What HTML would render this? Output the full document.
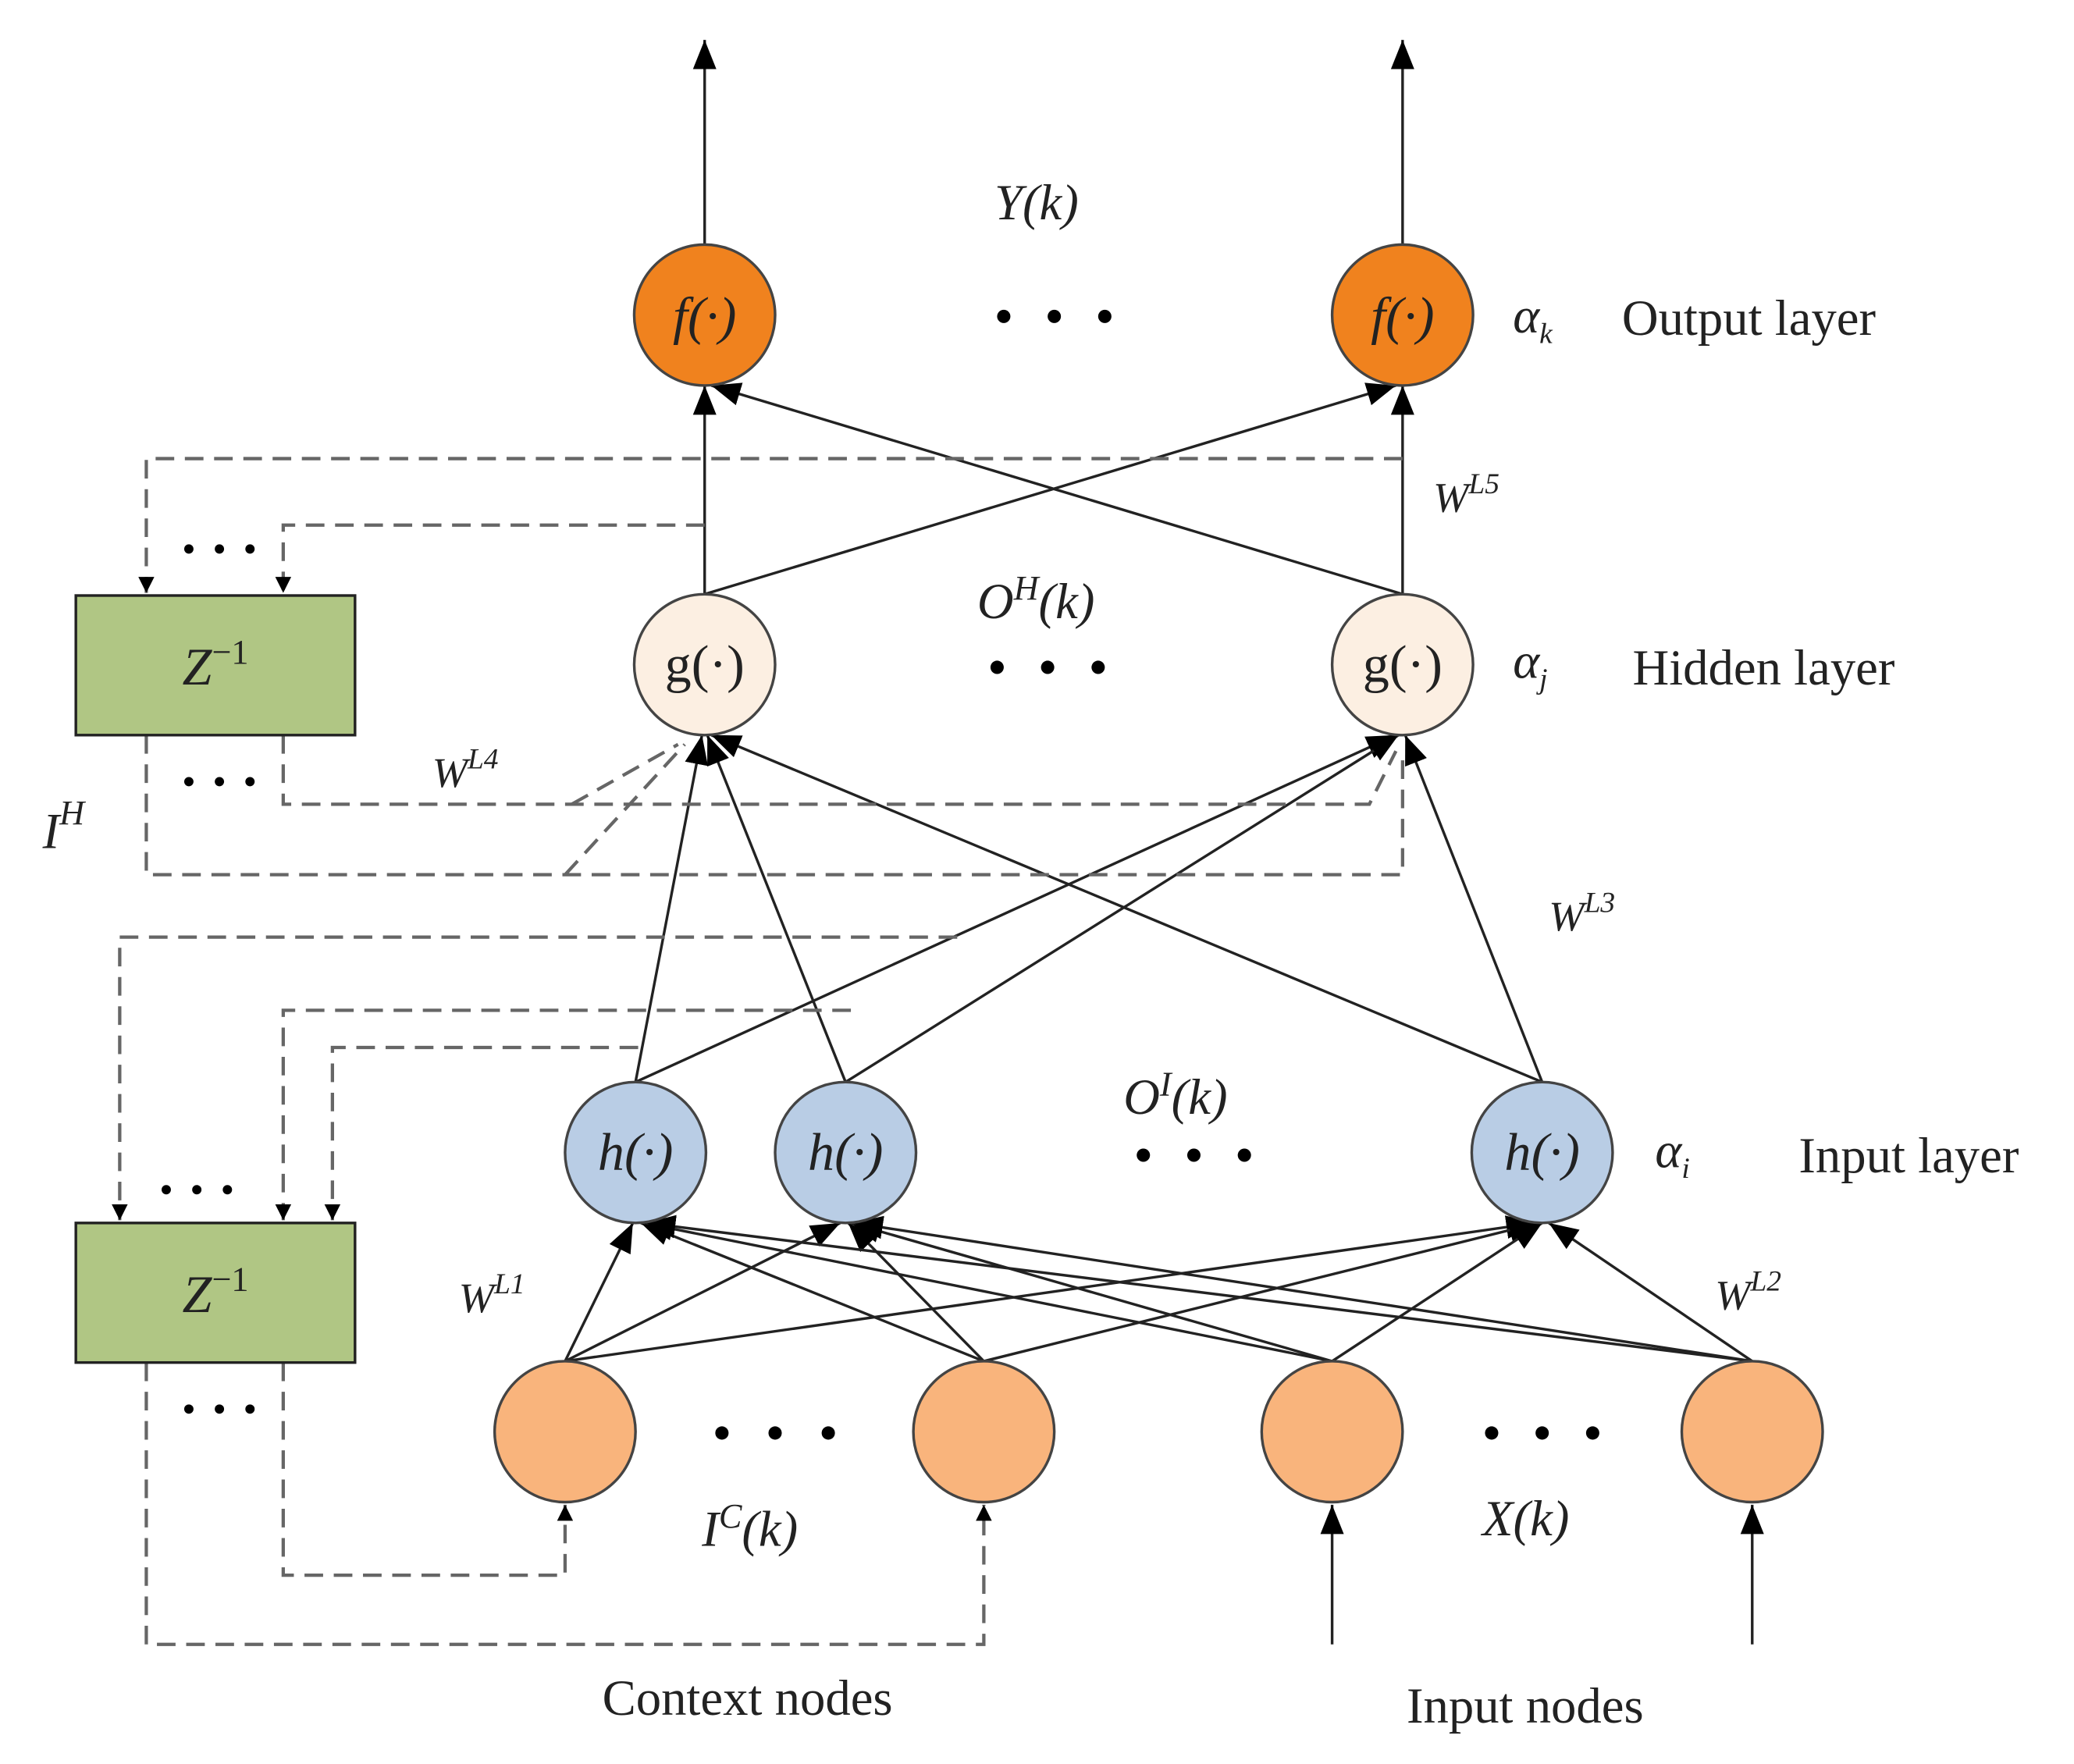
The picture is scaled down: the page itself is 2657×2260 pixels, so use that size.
<!DOCTYPE html>
<html><head><meta charset="utf-8"><style>
html,body{margin:0;padding:0;background:#fff}
svg{display:block}
text{font-family:"Liberation Serif",serif;fill:#222}
.it{font-style:italic}
</style></head><body>
<svg width="2657" height="2260" viewBox="0 0 1560 1327" xmlns="http://www.w3.org/2000/svg">
<defs>
<marker id="a" viewBox="0 0 10 10" refX="10" refY="5" markerWidth="12" markerHeight="12" markerUnits="userSpaceOnUse" orient="auto"><path d="M0,0 L10,5 L0,10 z" fill="#000"/></marker>
<marker id="b" viewBox="0 0 10 10" refX="10" refY="5" markerWidth="22" markerHeight="22" markerUnits="userSpaceOnUse" orient="auto"><path d="M0,1 L10,5 L0,9 z" fill="#000"/></marker>
</defs>
<g stroke="#222" stroke-width="2" fill="none">
<!-- output arrows -->
<line x1="530" y1="184" x2="530" y2="30" marker-end="url(#b)"/>
<line x1="1055" y1="184" x2="1055" y2="30" marker-end="url(#b)"/>
<!-- hidden to output -->
<line x1="530" y1="447" x2="530" y2="290" marker-end="url(#b)"/>
<line x1="530" y1="447" x2="1050" y2="290" marker-end="url(#b)"/>
<line x1="1055" y1="447" x2="535" y2="290" marker-end="url(#b)"/>
<line x1="1055" y1="447" x2="1055" y2="290" marker-end="url(#b)"/>
<!-- input to hidden -->
<line x1="478" y1="814" x2="528" y2="553" marker-end="url(#b)"/>
<line x1="636" y1="814" x2="532" y2="553" marker-end="url(#b)"/>
<line x1="1160" y1="814" x2="535" y2="553" marker-end="url(#b)"/>
<line x1="478" y1="814" x2="1050" y2="553" marker-end="url(#b)"/>
<line x1="636" y1="814" x2="1052" y2="553" marker-end="url(#b)"/>
<line x1="1160" y1="814" x2="1057" y2="553" marker-end="url(#b)"/>
<!-- bottom to input -->
<g>
<line x1="425" y1="1024" x2="476" y2="920" marker-end="url(#b)"/>
<line x1="425" y1="1024" x2="632" y2="920" marker-end="url(#b)"/>
<line x1="425" y1="1024" x2="1155" y2="920" marker-end="url(#b)"/>
<line x1="740" y1="1024" x2="482" y2="920" marker-end="url(#b)"/>
<line x1="740" y1="1024" x2="638" y2="920" marker-end="url(#b)"/>
<line x1="740" y1="1024" x2="1157" y2="920" marker-end="url(#b)"/>
<line x1="1002" y1="1024" x2="484" y2="920" marker-end="url(#b)"/>
<line x1="1002" y1="1024" x2="640" y2="920" marker-end="url(#b)"/>
<line x1="1002" y1="1024" x2="1160" y2="920" marker-end="url(#b)"/>
<line x1="1318" y1="1024" x2="486" y2="920" marker-end="url(#b)"/>
<line x1="1318" y1="1024" x2="642" y2="920" marker-end="url(#b)"/>
<line x1="1318" y1="1024" x2="1165" y2="920" marker-end="url(#b)"/>
</g>
<line x1="1002" y1="1237" x2="1002" y2="1132" marker-end="url(#b)"/>
<line x1="1318" y1="1237" x2="1318" y2="1132" marker-end="url(#b)"/>
</g>
<!-- dashed -->
<g stroke="#666" stroke-width="2.5" fill="none" stroke-dasharray="14,8">
<polyline points="1055,345 110,345 110,446" marker-end="url(#a)"/>
<polyline points="530,395 213,395 213,446" marker-end="url(#a)"/>
<polyline points="110,553 110,658 1055,658 1055,570"/>
<polyline points="213,553 213,605 1030,605 1050,565"/>
<line x1="425" y1="658" x2="515" y2="560"/>
<line x1="430" y1="605" x2="510" y2="560"/>
<polyline points="720,705 90,705 90,918" marker-end="url(#a)"/>
<polyline points="640,760 213,760 213,918" marker-end="url(#a)"/>
<polyline points="480,788 250,788 250,918" marker-end="url(#a)"/>
<polyline points="213,1025 213,1185 425,1185 425,1132" marker-end="url(#a)"/>
<polyline points="110,1025 110,1237 740,1237 740,1132" marker-end="url(#a)"/>
</g>
<!-- boxes -->
<rect x="57" y="448" width="210" height="105" fill="#B0C684" stroke="#222" stroke-width="2"/>
<rect x="57" y="920" width="210" height="105" fill="#B0C684" stroke="#222" stroke-width="2"/>
<!-- nodes -->
<g stroke="#444" stroke-width="2">
<circle cx="530" cy="237" r="53" fill="#F0821E"/>
<circle cx="1055" cy="237" r="53" fill="#F0821E"/>
<circle cx="530" cy="500" r="53" fill="#FCEFE2"/>
<circle cx="1055" cy="500" r="53" fill="#FCEFE2"/>
<circle cx="478" cy="867" r="53" fill="#B9CDE5"/>
<circle cx="636" cy="867" r="53" fill="#B9CDE5"/>
<circle cx="1160" cy="867" r="53" fill="#B9CDE5"/>
<circle cx="425" cy="1077" r="53" fill="#F9B47C"/>
<circle cx="740" cy="1077" r="53" fill="#F9B47C"/>
<circle cx="1002" cy="1077" r="53" fill="#F9B47C"/>
<circle cx="1318" cy="1077" r="53" fill="#F9B47C"/>
</g>
<!-- labels -->
<g font-size="40" text-anchor="middle">
<text x="530" y="251" class="it">f(·)</text>
<text x="1055" y="251" class="it">f(·)</text>
<text x="530" y="513">g(·)</text>
<text x="1055" y="513">g(·)</text>
<text x="478" y="880" class="it">h(·)</text>
<text x="636" y="880" class="it">h(·)</text>
<text x="1160" y="880" class="it">h(·)</text>
<text x="162" y="515" class="it">Z<tspan font-size="26" dy="-16" font-style="normal">−1</tspan></text>
<text x="162" y="987" class="it">Z<tspan font-size="26" dy="-16" font-style="normal">−1</tspan></text>
</g>
<g font-size="38" class="it">
<text x="748" y="165" class="it">Y(k)</text>
<text x="735" y="465" class="it">O<tspan font-size="26" dy="-14">H</tspan><tspan dy="14">(k)</tspan></text>
<text x="845" y="838" class="it">O<tspan font-size="26" dy="-14">I</tspan><tspan dy="14">(k)</tspan></text>
<text x="528" y="1163" class="it">I<tspan font-size="26" dy="-14">C</tspan><tspan dy="14">(k)</tspan></text>
<text x="1115" y="1155" class="it">X(k)</text>
<text x="32" y="638" class="it">I<tspan font-size="26" dy="-18">H</tspan></text>
<text x="1138" y="250" class="it">α<tspan font-size="22" dy="8">k</tspan></text>
<text x="1138" y="510" class="it">α<tspan font-size="22" dy="8">j</tspan></text>
<text x="1245" y="878" class="it">α<tspan font-size="22" dy="8">i</tspan></text>
</g>
<g font-size="32" class="it">
<text x="1078" y="385" class="it">W<tspan font-size="22" dy="-14">L5</tspan></text>
<text x="325" y="592" class="it">W<tspan font-size="22" dy="-14">L4</tspan></text>
<text x="1165" y="700" class="it">W<tspan font-size="22" dy="-14">L3</tspan></text>
<text x="345" y="987" class="it">W<tspan font-size="22" dy="-14">L1</tspan></text>
<text x="1290" y="985" class="it">W<tspan font-size="22" dy="-14">L2</tspan></text>
</g>
<g font-size="38">
<text x="1220" y="252">Output layer</text>
<text x="1228" y="515">Hidden layer</text>
<text x="1353" y="882">Input layer</text>
<text x="453" y="1290">Context nodes</text>
<text x="1058" y="1296">Input nodes</text>
</g>
<g fill="#000">
<circle cx="755" cy="238" r="5"/><circle cx="793" cy="238" r="5"/><circle cx="831" cy="238" r="5"/>
<circle cx="750" cy="502" r="5"/><circle cx="788" cy="502" r="5"/><circle cx="826" cy="502" r="5"/>
<circle cx="860" cy="869" r="5"/><circle cx="898" cy="869" r="5"/><circle cx="936" cy="869" r="5"/>
<circle cx="543" cy="1078" r="5"/><circle cx="583" cy="1078" r="5"/><circle cx="623" cy="1078" r="5"/>
<circle cx="1122" cy="1078" r="5"/><circle cx="1160" cy="1078" r="5"/><circle cx="1198" cy="1078" r="5"/>
<circle cx="142" cy="413" r="3.5"/><circle cx="165" cy="413" r="3.5"/><circle cx="188" cy="413" r="3.5"/>
<circle cx="142" cy="588" r="3.5"/><circle cx="165" cy="588" r="3.5"/><circle cx="188" cy="588" r="3.5"/>
<circle cx="125" cy="895" r="3.5"/><circle cx="148" cy="895" r="3.5"/><circle cx="171" cy="895" r="3.5"/>
<circle cx="142" cy="1060" r="3.5"/><circle cx="165" cy="1060" r="3.5"/><circle cx="188" cy="1060" r="3.5"/>
</g>
</svg>
</body></html>
